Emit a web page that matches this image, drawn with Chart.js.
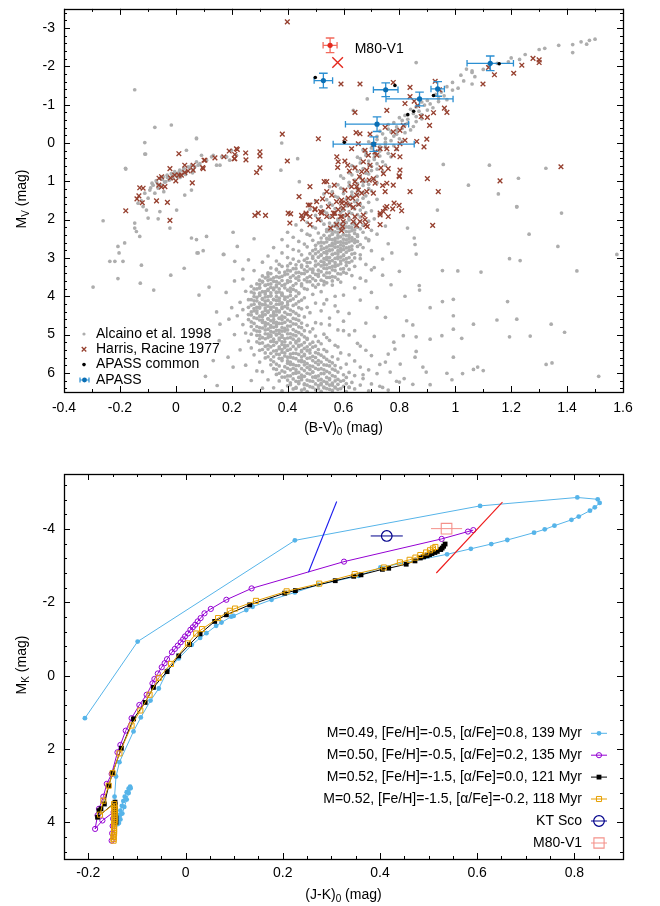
<!DOCTYPE html>
<html>
<head>
<meta charset="utf-8">
<script src="https://cdn.jsdelivr.net/npm/chart.js@4.4.1/dist/chart.umd.min.js"></script>
<style>
  html, body { margin: 0; padding: 0; background: #fff; }
  #wrap { position: relative; width: 660px; height: 906px; }
  #cmd { position: absolute; left: 0; top: 0; }
  #hb { position: absolute; left: 0; top: 445px; }
</style>
</head>
<body>
<div id="wrap">
  <canvas id="cmd" width="660" height="445"></canvas>
  <canvas id="hb" width="660" height="461"></canvas>
</div>
<script>
// ---------------- upper panel: colour-magnitude diagram [(B-V)0, MV] ----------------

const cmdXTicks = [-0.4, -0.2, 0, 0.2, 0.4, 0.6, 0.8, 1, 1.2, 1.4, 1.6];
const cmdYTicks = [-3, -2, -1, 0, 1, 2, 3, 4, 5, 6];

// Alcaino et al. 1998
const alcaino = [
  [0.38,6.47],[0.42,6.42],[0.45,6.45],[0.47,6.49],[0.50,6.44],[0.52,6.48],[0.54,6.41],[0.56,6.46],[0.58,6.43],[0.61,6.49],[0.64,6.42],[0.69,6.47],[0.76,6.45],
  [0.35,6.39],[0.40,6.34],[0.43,6.38],[0.46,6.31],[0.48,6.36],[0.51,6.33],[0.53,6.39],[0.55,6.32],[0.57,6.37],[0.60,6.35],[0.62,6.37],[0.66,6.32],[0.73,6.35],
  [0.37,6.21],[0.41,6.26],[0.44,6.23],[0.46,6.29],[0.49,6.22],[0.52,6.27],[0.54,6.25],[0.56,6.27],[0.59,6.22],[0.63,6.25],[0.70,6.29],[0.80,6.24],
  [0.33,6.18],[0.39,6.11],[0.42,6.16],[0.45,6.13],[0.47,6.19],[0.50,6.12],[0.52,6.17],[0.55,6.15],[0.58,6.17],[0.61,6.12],[0.67,6.15],
  [0.36,6.04],[0.40,6.08],[0.43,6.01],[0.45,6.06],[0.48,6.03],[0.50,6.09],[0.53,6.02],[0.56,6.07],[0.60,6.05],[0.64,6.07],[0.72,6.02],
  [0.31,5.97],[0.38,5.95],[0.41,5.92],[0.43,5.99],[0.46,5.94],[0.49,5.98],[0.51,5.91],[0.54,5.96],[0.57,5.93],[0.62,5.99],[0.69,5.92],
  [0.35,5.89],[0.39,5.84],[0.42,5.88],[0.44,5.81],[0.47,5.86],[0.49,5.83],[0.52,5.89],[0.55,5.82],[0.59,5.87],[0.66,5.85],
  [0.30,5.72],[0.36,5.77],[0.40,5.75],[0.42,5.78],[0.45,5.71],[0.47,5.76],[0.50,5.73],[0.53,5.79],[0.56,5.74],[0.61,5.77],[0.75,5.72],
  [0.34,5.66],[0.37,5.62],[0.40,5.69],[0.43,5.63],[0.45,5.67],[0.48,5.61],[0.51,5.68],[0.54,5.65],[0.58,5.64],[0.64,5.69],
  [0.28,5.53],[0.33,5.58],[0.36,5.51],[0.39,5.56],[0.41,5.59],[0.44,5.52],[0.46,5.55],[0.49,5.57],[0.52,5.54],[0.56,5.58],[0.62,5.53],
  [0.32,5.48],[0.35,5.43],[0.38,5.46],[0.40,5.41],[0.42,5.49],[0.45,5.45],[0.47,5.42],[0.50,5.47],[0.54,5.44],[0.59,5.48],[0.68,5.41],
  [0.27,5.35],[0.31,5.39],[0.34,5.32],[0.37,5.37],[0.39,5.34],[0.41,5.38],[0.44,5.31],[0.46,5.36],[0.49,5.33],[0.53,5.39],[0.58,5.32],
  [0.30,5.23],[0.33,5.28],[0.36,5.21],[0.38,5.26],[0.40,5.29],[0.43,5.22],[0.45,5.27],[0.48,5.25],[0.52,5.24],[0.57,5.28],[0.65,5.23],
  [0.26,5.17],[0.32,5.11],[0.35,5.18],[0.37,5.14],[0.39,5.19],[0.42,5.12],[0.44,5.16],[0.47,5.13],[0.51,5.18],[0.55,5.15],
  [0.29,5.02],[0.31,5.08],[0.34,5.05],[0.36,5.01],[0.38,5.07],[0.40,5.09],[0.43,5.03],[0.46,5.06],[0.50,5.04],[0.54,5.08],[0.62,5.01],
  [0.25,4.96],[0.30,4.92],[0.33,4.99],[0.35,4.94],[0.37,4.97],[0.39,4.91],[0.41,4.98],[0.44,4.95],[0.48,4.93],[0.53,4.99],
  [0.28,4.88],[0.31,4.83],[0.33,4.86],[0.35,4.81],[0.37,4.89],[0.39,4.84],[0.42,4.87],[0.45,4.82],[0.49,4.85],[0.58,4.88],
  [0.24,4.74],[0.29,4.79],[0.32,4.72],[0.34,4.77],[0.36,4.75],[0.38,4.71],[0.40,4.78],[0.43,4.73],[0.47,4.76],[0.52,4.72],
  [0.27,4.67],[0.30,4.62],[0.32,4.69],[0.34,4.64],[0.36,4.68],[0.38,4.61],[0.41,4.66],[0.44,4.63],[0.50,4.69],[0.60,4.65],
  [0.22,4.51],[0.28,4.56],[0.31,4.53],[0.33,4.59],[0.35,4.52],[0.37,4.57],[0.39,4.55],[0.42,4.58],[0.46,4.54],[0.55,4.57],
  [0.26,4.48],[0.29,4.44],[0.31,4.49],[0.33,4.42],[0.35,4.46],[0.37,4.41],[0.40,4.47],[0.43,4.45],[0.48,4.43],
  [0.24,4.35],[0.28,4.38],[0.30,4.31],[0.32,4.37],[0.34,4.34],[0.36,4.39],[0.38,4.32],[0.41,4.36],[0.45,4.33],[0.52,4.38],
  [0.27,4.23],[0.29,4.29],[0.31,4.22],[0.33,4.26],[0.35,4.28],[0.37,4.21],[0.39,4.27],[0.42,4.24],[0.47,4.29],[0.57,4.25],
  [0.23,4.16],[0.28,4.12],[0.30,4.19],[0.32,4.13],[0.34,4.17],[0.36,4.11],[0.38,4.18],[0.40,4.15],[0.44,4.14],[0.50,4.18],
  [0.26,4.09],[0.29,4.03],[0.31,4.06],[0.33,4.01],[0.35,4.08],[0.37,4.05],[0.39,4.02],[0.42,4.07],[0.46,4.04],[0.54,4.09],
  [0.28,3.92],[0.30,3.97],[0.32,3.94],[0.34,3.99],[0.36,3.91],[0.38,3.96],[0.41,3.98],[0.44,3.93],[0.49,3.95],[0.60,3.97],
  [0.25,3.87],[0.29,3.81],[0.31,3.88],[0.33,3.85],[0.35,3.83],[0.37,3.89],[0.40,3.84],[0.43,3.86],[0.47,3.82],[0.52,3.88],
  [0.27,3.74],[0.30,3.78],[0.32,3.71],[0.34,3.77],[0.36,3.75],[0.38,3.72],[0.41,3.79],[0.45,3.73],[0.50,3.76],[0.56,3.71],[0.64,3.78],
  [0.29,3.68],[0.31,3.63],[0.33,3.69],[0.35,3.61],[0.37,3.66],[0.40,3.64],[0.43,3.67],[0.47,3.62],[0.51,3.69],[0.54,3.65],[0.59,3.63],
  [0.24,3.55],[0.30,3.58],[0.32,3.52],[0.34,3.56],[0.37,3.51],[0.40,3.59],[0.43,3.53],[0.46,3.57],[0.49,3.54],[0.52,3.58],[0.55,3.51],[0.58,3.56],[0.66,3.53],
  [0.31,3.47],[0.33,3.42],[0.36,3.49],[0.39,3.44],[0.42,3.46],[0.45,3.41],[0.48,3.48],[0.50,3.43],[0.53,3.45],[0.56,3.49],[0.59,3.42],[0.63,3.46],
  [0.28,3.33],[0.33,3.39],[0.36,3.31],[0.39,3.37],[0.41,3.34],[0.44,3.38],[0.47,3.35],[0.49,3.32],[0.52,3.36],[0.54,3.39],[0.57,3.33],[0.60,3.37],[0.70,3.31],
  [0.34,3.26],[0.38,3.22],[0.42,3.28],[0.45,3.24],[0.48,3.29],[0.50,3.21],[0.53,3.27],[0.55,3.25],[0.57,3.23],[0.60,3.28],[0.64,3.22],
  [0.31,3.11],[0.37,3.17],[0.41,3.14],[0.45,3.19],[0.48,3.12],[0.51,3.16],[0.53,3.18],[0.55,3.13],[0.57,3.19],[0.59,3.15],[0.62,3.12],[0.68,3.17],
  [0.36,3.08],[0.42,3.03],[0.46,3.06],[0.49,3.01],[0.52,3.09],[0.54,3.04],[0.56,3.07],[0.58,3.02],[0.60,3.05],[0.63,3.08],[0.74,3.03],
  [0.33,2.95],[0.40,2.99],[0.45,2.92],[0.49,2.96],[0.52,2.93],[0.54,2.98],[0.56,2.91],[0.58,2.97],[0.60,2.94],[0.62,2.99],[0.66,2.92],
  [0.38,2.87],[0.44,2.82],[0.48,2.89],[0.51,2.84],[0.53,2.86],[0.55,2.81],[0.57,2.88],[0.59,2.83],[0.61,2.85],[0.64,2.88],[0.70,2.81],
  [0.35,2.73],[0.42,2.78],[0.47,2.71],[0.50,2.77],[0.53,2.75],[0.55,2.79],[0.57,2.72],[0.59,2.76],[0.61,2.74],[0.63,2.78],[0.67,2.73],
  [0.40,2.69],[0.46,2.64],[0.50,2.67],[0.53,2.61],[0.55,2.68],[0.57,2.63],[0.59,2.66],[0.61,2.62],[0.63,2.69],[0.66,2.65],[0.76,2.63],
  [0.38,2.52],[0.44,2.57],[0.49,2.54],[0.52,2.59],[0.55,2.51],[0.57,2.56],[0.59,2.58],[0.61,2.53],[0.63,2.55],[0.65,2.57],[0.69,2.52],
  [0.42,2.46],[0.48,2.41],[0.52,2.48],[0.55,2.43],[0.57,2.49],[0.59,2.45],[0.61,2.42],[0.63,2.47],[0.65,2.44],[0.68,2.48],
  [0.40,2.33],[0.47,2.38],[0.51,2.35],[0.54,2.31],[0.56,2.37],[0.58,2.34],[0.60,2.39],[0.62,2.32],[0.64,2.36],[0.67,2.33],[0.72,2.38],
  [0.45,2.28],[0.50,2.22],[0.54,2.26],[0.56,2.29],[0.58,2.23],[0.60,2.25],[0.62,2.21],[0.64,2.27],[0.66,2.24],[0.70,2.28],
  [0.43,2.14],[0.49,2.19],[0.53,2.12],[0.56,2.17],[0.58,2.11],[0.60,2.16],[0.62,2.18],[0.64,2.13],[0.67,2.15],[0.75,2.17],
  [0.47,2.07],[0.52,2.03],[0.55,2.09],[0.58,2.02],[0.60,2.06],[0.62,2.01],[0.64,2.08],[0.66,2.05],[0.69,2.04],
  [0.45,1.92],[0.51,1.98],[0.55,1.94],[0.58,1.99],[0.60,1.91],[0.62,1.97],[0.64,1.95],[0.66,1.93],[0.71,1.98],
  [0.50,1.89],[0.54,1.83],[0.57,1.86],[0.59,1.81],[0.61,1.88],[0.63,1.84],[0.65,1.87],[0.68,1.82],
  [0.48,1.73],[0.53,1.78],[0.57,1.71],[0.60,1.76],[0.62,1.79],[0.64,1.72],[0.66,1.75],[0.70,1.77],
  [0.52,1.66],[0.56,1.62],[0.59,1.69],[0.61,1.64],[0.63,1.67],[0.65,1.61],[0.67,1.68],
  [0.50,1.51],[0.55,1.57],[0.59,1.54],[0.62,1.58],[0.64,1.53],[0.66,1.59],[0.69,1.55],
  [0.54,1.48],[0.58,1.42],[0.61,1.46],[0.63,1.41],[0.65,1.49],[0.67,1.44],[0.72,1.47],
  [0.53,1.33],[0.57,1.39],[0.60,1.32],[0.63,1.36],[0.65,1.34],[0.68,1.38],
  [0.56,1.27],[0.60,1.21],[0.63,1.28],[0.65,1.23],[0.67,1.29],[0.70,1.25],
  [0.55,1.14],[0.59,1.18],[0.62,1.12],[0.65,1.17],[0.67,1.11],[0.69,1.19],
  [0.58,1.09],[0.62,1.03],[0.65,1.06],[0.67,1.02],[0.69,1.08],[0.72,1.04],
  [0.60,0.92],[0.64,0.97],[0.66,0.91],[0.68,0.99],[0.71,0.95],
  [0.59,0.86],[0.63,0.83],[0.66,0.88],[0.69,0.81],[0.72,0.87],
  [0.62,0.78],[0.65,0.74],[0.68,0.79],[0.70,0.72],[0.74,0.75],
  [0.64,0.63],[0.67,0.67],[0.70,0.61],[0.72,0.68],
  [0.63,0.59],[0.66,0.52],[0.69,0.56],[0.72,0.54],[0.75,0.58],
  [0.66,0.41],[0.69,0.47],[0.71,0.43],[0.74,0.49],
  [0.65,0.37],[0.68,0.32],[0.71,0.38],[0.73,0.34],[0.77,0.36],
  [0.68,0.24],[0.71,0.29],[0.73,0.21],[0.76,0.27],
  [0.67,0.18],[0.70,0.13],[0.73,0.16],[0.75,0.11],[0.79,0.17],
  [0.70,0.02],[0.73,0.09],[0.75,0.04],[0.78,0.07],
  [0.69,-0.03],[0.72,-0.09],[0.75,-0.02],[0.77,-0.06],[0.81,-0.04],
  [0.72,-0.17],[0.75,-0.12],[0.78,-0.18],[0.80,-0.11],
  [0.74,-0.24],[0.77,-0.29],[0.79,-0.23],[0.82,-0.27],
  [0.73,-0.31],[0.76,-0.36],[0.79,-0.33],[0.81,-0.38],[0.84,-0.34],
  [0.76,-0.48],[0.79,-0.42],[0.82,-0.47],[0.85,-0.43],
  [0.78,-0.53],[0.81,-0.59],[0.83,-0.52],[0.86,-0.56],
  [0.80,-0.66],[0.83,-0.62],[0.86,-0.69],[0.88,-0.63],
  [0.82,-0.72],[0.85,-0.77],[0.88,-0.74],
  [0.84,-0.88],[0.87,-0.83],[0.90,-0.86],
  [0.86,-0.94],[0.89,-0.99],[0.92,-0.92],
  [0.88,-1.07],[0.91,-1.02],[0.94,-1.08],
  [0.90,-1.11],[0.94,-1.16],[0.97,-1.13],
  [0.93,-1.27],[0.96,-1.23],[0.95,-1.33],[0.99,-1.38],[0.97,-1.47],[1.01,-1.43],
  [0.99,-1.58],[1.03,-1.62],[1.02,-1.77],[1.07,-1.73],[1.06,-1.88],[1.10,-1.92],
  [1.12,-2.02],[1.15,-2.08],[1.19,-2.12],[1.20,-2.22],[1.23,-2.18],[1.25,-2.31],[1.30,-2.44],[1.32,-2.47],
  [1.37,-2.55],[1.42,-2.57],[1.45,-2.64],[1.47,-2.58],[1.48,-2.68],[1.50,-2.71],[1.42,-2.36],
  [1.04,-1.93],[1.06,-1.84],[1.06,-1.54],[0.86,-2.10],[0.685,-1.15],[0.635,-0.85],
  // densest part of the main sequence, turn-off and lower giant branch
  [0.43,6.40],[0.46,6.42],[0.49,6.38],[0.51,6.41],[0.53,6.37],[0.55,6.43],[0.57,6.39],[0.59,6.41],[0.62,6.38],
  [0.41,6.31],[0.44,6.28],[0.47,6.32],[0.50,6.29],[0.52,6.31],[0.54,6.28],[0.56,6.32],[0.58,6.30],[0.61,6.28],
  [0.40,6.19],[0.43,6.22],[0.45,6.18],[0.48,6.21],[0.51,6.19],[0.53,6.22],[0.55,6.18],[0.57,6.21],[0.60,6.20],
  [0.38,6.11],[0.41,6.08],[0.44,6.12],[0.46,6.09],[0.49,6.11],[0.51,6.08],[0.54,6.12],[0.57,6.10],
  [0.37,6.01],[0.39,5.98],[0.42,6.02],[0.44,5.99],[0.47,6.01],[0.49,5.98],[0.52,6.02],[0.55,6.00],[0.58,5.98],
  [0.36,5.91],[0.40,5.88],[0.43,5.92],[0.45,5.89],[0.48,5.91],[0.50,5.88],[0.53,5.92],[0.56,5.90],
  [0.34,5.79],[0.37,5.82],[0.41,5.78],[0.43,5.81],[0.46,5.79],[0.48,5.82],[0.51,5.78],[0.54,5.80],[0.57,5.81],
  [0.35,5.71],[0.38,5.68],[0.41,5.72],[0.44,5.69],[0.46,5.71],[0.49,5.68],[0.52,5.72],[0.55,5.70],
  [0.32,5.61],[0.35,5.58],[0.38,5.62],[0.40,5.59],[0.42,5.61],[0.45,5.58],[0.47,5.62],[0.50,5.60],[0.53,5.59],
  [0.34,5.49],[0.37,5.52],[0.39,5.48],[0.41,5.51],[0.43,5.49],[0.46,5.52],[0.48,5.48],[0.51,5.50],
  [0.30,5.41],[0.33,5.38],[0.36,5.42],[0.38,5.39],[0.40,5.41],[0.43,5.38],[0.45,5.42],[0.48,5.40],[0.51,5.39],
  [0.32,5.31],[0.35,5.28],[0.37,5.32],[0.39,5.29],[0.42,5.31],[0.44,5.28],[0.47,5.32],[0.50,5.30],
  [0.29,5.19],[0.31,5.22],[0.34,5.18],[0.36,5.21],[0.38,5.19],[0.41,5.22],[0.43,5.18],[0.46,5.21],[0.49,5.20],
  [0.30,5.11],[0.33,5.08],[0.35,5.12],[0.37,5.09],[0.39,5.11],[0.41,5.08],[0.44,5.12],[0.47,5.10],
  [0.27,4.99],[0.30,5.02],[0.32,4.98],[0.34,5.01],[0.36,4.99],[0.38,5.02],[0.40,4.98],[0.42,5.01],[0.45,5.00],
  [0.29,4.91],[0.32,4.88],[0.34,4.92],[0.36,4.89],[0.38,4.91],[0.40,4.88],[0.43,4.92],[0.46,4.90],
  [0.27,4.79],[0.30,4.82],[0.32,4.78],[0.34,4.81],[0.36,4.79],[0.38,4.82],[0.41,4.78],[0.44,4.80],
  [0.28,4.71],[0.31,4.68],[0.33,4.72],[0.35,4.69],[0.37,4.71],[0.39,4.68],[0.42,4.72],[0.45,4.70],
  [0.26,4.61],[0.29,4.58],[0.31,4.62],[0.33,4.59],[0.35,4.61],[0.37,4.58],[0.40,4.62],[0.43,4.60],
  [0.27,4.49],[0.30,4.52],[0.32,4.48],[0.34,4.51],[0.36,4.49],[0.38,4.52],[0.41,4.48],[0.44,4.50],
  [0.27,4.41],[0.29,4.38],[0.31,4.42],[0.33,4.39],[0.35,4.41],[0.37,4.38],[0.39,4.42],[0.42,4.40],
  [0.26,4.29],[0.28,4.32],[0.30,4.28],[0.32,4.31],[0.34,4.29],[0.36,4.32],[0.38,4.28],[0.40,4.31],[0.44,4.30],
  [0.28,4.21],[0.30,4.18],[0.32,4.22],[0.34,4.19],[0.36,4.21],[0.38,4.18],[0.40,4.22],[0.43,4.20],
  [0.27,4.09],[0.29,4.12],[0.31,4.08],[0.33,4.11],[0.35,4.09],[0.37,4.12],[0.39,4.08],[0.41,4.11],[0.45,4.10],
  [0.28,4.01],[0.30,3.98],[0.32,4.02],[0.34,3.99],[0.36,4.01],[0.38,3.98],[0.40,4.02],[0.43,4.00],
  [0.27,3.89],[0.30,3.92],[0.32,3.88],[0.34,3.91],[0.36,3.89],[0.38,3.92],[0.41,3.88],[0.44,3.91],
  [0.28,3.81],[0.30,3.78],[0.33,3.82],[0.35,3.79],[0.37,3.81],[0.39,3.78],[0.42,3.82],[0.46,3.80],
  [0.30,3.69],[0.32,3.72],[0.34,3.68],[0.36,3.71],[0.39,3.69],[0.42,3.72],[0.45,3.68],[0.49,3.71],[0.53,3.70],
  [0.31,3.61],[0.33,3.58],[0.36,3.62],[0.38,3.59],[0.41,3.61],[0.44,3.58],[0.48,3.62],[0.50,3.59],[0.53,3.61],[0.56,3.60],
  [0.33,3.49],[0.35,3.52],[0.38,3.48],[0.41,3.51],[0.44,3.49],[0.47,3.52],[0.51,3.48],[0.54,3.51],[0.57,3.50],
  [0.34,3.41],[0.37,3.38],[0.40,3.42],[0.43,3.39],[0.46,3.41],[0.49,3.38],[0.51,3.42],[0.55,3.39],[0.58,3.41],[0.61,3.40],
  [0.36,3.29],[0.40,3.32],[0.43,3.28],[0.46,3.31],[0.49,3.29],[0.51,3.32],[0.54,3.28],[0.56,3.31],[0.59,3.29],[0.62,3.30],
  [0.40,3.21],[0.43,3.18],[0.47,3.22],[0.50,3.19],[0.52,3.21],[0.54,3.18],[0.56,3.22],[0.58,3.19],[0.61,3.20],
  [0.44,3.09],[0.47,3.12],[0.50,3.08],[0.53,3.11],[0.55,3.09],[0.57,3.12],[0.59,3.08],[0.61,3.11],
  [0.47,3.01],[0.51,2.98],[0.53,3.02],[0.55,2.99],[0.57,3.01],[0.59,2.98],[0.61,3.02],[0.64,3.00],
  [0.50,2.89],[0.52,2.92],[0.54,2.88],[0.56,2.91],[0.58,2.89],[0.60,2.92],[0.63,2.90],
  [0.49,2.81],[0.52,2.78],[0.54,2.82],[0.56,2.79],[0.58,2.81],[0.60,2.78],[0.62,2.80],
  [0.52,2.69],[0.54,2.72],[0.56,2.68],[0.58,2.71],[0.60,2.69],[0.62,2.72],[0.65,2.70],
  [0.51,2.61],[0.54,2.58],[0.56,2.62],[0.58,2.59],[0.60,2.61],[0.62,2.58],[0.64,2.60],
  [0.54,2.49],[0.56,2.52],[0.58,2.48],[0.60,2.51],[0.62,2.49],[0.64,2.52],
  [0.53,2.41],[0.56,2.38],[0.58,2.42],[0.60,2.39],[0.62,2.41],[0.65,2.40],
  [0.55,2.29],[0.57,2.32],[0.59,2.28],[0.61,2.31],[0.63,2.29],
  [0.55,2.21],[0.57,2.18],[0.59,2.22],[0.61,2.19],[0.63,2.21],[0.65,2.20],
  [0.57,2.09],[0.59,2.12],[0.61,2.08],[0.63,2.11],
  // horizontal branch and blue tail
  [-0.26,2.03],[-0.179,0.68],[-0.123,1.51],[-0.117,1.66],[-0.111,1.31],[-0.099,1.44],[-0.093,1.23],[-0.081,1.10],
  [-0.075,1.31],[-0.069,1.01],[-0.063,1.18],[-0.057,0.92],[-0.051,1.10],[-0.045,0.88],[-0.043,1.27],[-0.036,1.01],
  [-0.031,0.84],[-0.024,0.97],[-0.016,0.80],[-0.010,0.92],[-0.004,0.75],[0.005,0.88],[0.014,0.71],[0.020,0.84],
  [0.029,0.66],[0.038,0.75],[0.044,0.62],[0.056,0.58],[0.062,0.71],[0.074,0.49],[0.086,0.54],[0.092,0.32],
  [0.110,0.45],[0.128,0.36],[0.134,0.32],[0.146,0.58],[0.158,0.58],[0.164,0.36],[0.182,0.36],[0.193,0.45],
  [0.199,0.19],[0.217,0.32],[0.038,0.19],[0.074,-0.11],[-0.111,-0.01],[-0.111,0.29],[-0.075,-0.41],[-0.016,-0.47],
  [0.032,1.36],[0.056,1.23],[0.003,1.75],[-0.021,2.22],[-0.063,1.98],[-0.057,1.79],[-0.099,1.96],[-0.105,1.75],
  [-0.135,1.57],[-0.147,2.09],[-0.147,2.22],[-0.141,2.31],[-0.129,2.44],[-0.183,2.61],[-0.207,2.70],[-0.236,3.09],
  [-0.218,3.09],[-0.189,3.09],[-0.203,2.87],[-0.123,3.19],[0.074,2.52],[0.110,2.44],[0.056,2.48],[0.098,2.81],
  [0.076,2.87],[0.170,2.91],[0.205,2.33],[0.211,3.09],[-0.147,-1.39],[-0.108,0.29],[0.074,-0.13],[-0.18,0.66],
  [-0.085,1.05],[-0.070,0.98],[-0.048,0.95],[-0.030,0.90],[-0.012,0.86],[0.000,0.80],[0.010,0.78],[0.025,0.73],
  [0.050,0.66],[0.068,0.62],[0.080,0.58],[-0.090,1.17],[-0.065,1.07],[-0.040,1.02],[-0.020,0.95],[0.015,0.90],
  [0.035,0.82],[0.060,0.78],
  [-0.207,3.54],[-0.296,3.76],[-0.127,3.66],[-0.079,3.84],[-0.018,3.45],[0.030,3.27],[0.080,2.87],[0.083,3.97],
  [0.119,3.76],[0.146,4.41],[0.158,4.73],[0.172,2.91],[0.155,5.16],[0.187,5.59],[0.134,5.68],[0.205,5.85],
  [0.106,6.09],[0.148,6.33],[0.379,0.0],[0.436,0.41],[0.442,1.01],[0.376,0.71],
  // sparse wings around the turn-off
  [0.66,3.02],[0.71,3.25],[0.68,3.6],[0.74,3.45],[0.70,3.9],[0.77,3.7],[0.66,4.1],[0.72,4.3],[0.62,4.45],[0.68,4.7],
  [0.75,4.55],[0.64,4.9],[0.71,5.05],[0.66,5.3],[0.78,5.2],[0.70,5.55],[0.73,5.78],[0.67,6.05],[0.79,6.22],[0.74,6.38],
  [0.82,4.0],[0.80,3.35],[0.86,2.9],[0.69,2.55],[0.58,4.4],[0.60,4.9],[0.57,4.0],[0.53,4.2],[0.55,4.75],
  [0.20,4.3],[0.18,3.9],[0.21,5.0],[0.23,5.4],[0.19,4.6],[0.24,3.3],[0.21,3.6],[0.26,3.05],[0.22,2.7],[0.28,2.5],
  [0.25,5.8],[0.27,6.2],[0.31,6.4],[0.29,5.95],
  // field stars
  [0.936,1.75],[1.22,1.66],[1.38,1.83],[1.264,2.38],[1.367,2.70],[1.578,2.91],[1.194,3.02],[1.232,3.07],[1.435,3.34],
  [1.092,3.37],[1.009,3.34],[0.954,3.33],[0.872,3.84],[1.187,4.14],[1.22,4.60],[1.149,4.62],[1.065,4.73],[0.993,4.08],
  [0.993,4.51],[0.954,4.14],[0.91,4.30],[1.343,4.73],[1.391,4.94],[1.268,5.04],[1.194,5.06],[0.993,4.86],[1.023,5.10],
  [0.952,5.03],[0.91,5.12],[0.86,5.06],[0.814,5.03],[0.848,4.75],[0.993,5.59],[1.065,5.91],[1.08,5.85],[1.10,5.94],
  [1.026,6.02],[0.97,6.01],[0.988,6.18],[1.325,5.78],[1.346,5.74],[1.513,6.09],[0.896,5.98],[0.884,5.85],[0.856,5.59],
  [0.86,5.44],[0.817,6.15],[0.848,6.30],[0.91,6.31],[0.767,5.98],[0.803,5.77],[0.760,5.51],[0.784,5.38],[0.826,4.64],
  [0.871,3.72],[0.853,2.48],[0.856,2.65],[0.829,2.22],[0.773,2.87],
  [0.957,0.56],[1.122,0.58],[1.226,0.92],[1.324,0.66],[1.047,1.10],[1.154,1.33],[1.22,1.67]
];

// Harris & Racine 1977
const harris = [
  [0.399,-3.16],[0.381,-0.23],[0.510,-0.11],[0.011,0.28],[0.191,0.21],[0.220,0.17],[0.250,0.26],[0.301,0.23],
  [0.301,0.34],[0.251,0.44],[0.209,0.41],[0.172,0.36],[0.140,0.39],[0.104,0.45],[0.096,0.64],[0.062,0.58],
  [0.062,0.71],[0.032,0.58],[0.032,0.77],[0.020,0.84],[-0.004,0.84],[-0.021,0.67],[-0.019,0.91],[-0.051,0.88],
  [-0.061,1.10],[-0.039,1.14],[-0.129,1.17],[-0.117,1.18],[-0.139,1.46],[-0.120,1.56],[-0.069,1.51],[-0.030,1.55],
  [0.059,1.04],[0.289,0.77],[0.301,0.65],[0.441,1.40],[0.480,1.14],[0.540,1.01],[0.399,0.47],
  [-0.132,1.38],[-0.179,1.77],[-0.021,2.02],[-0.051,1.15],[0.000,0.99],[-0.060,0.92],[0.011,0.84],[0.044,0.73],
  [0.098,0.67],[0.101,0.45],[0.211,0.30],[0.211,0.41],[0.217,0.15],
  [0.283,1.89],[0.295,1.83],[0.321,1.89],[0.402,1.83],[0.408,2.09],[0.450,1.89],[0.466,1.83],[0.480,2.13],
  [0.510,2.00],[0.522,1.83],[0.498,1.72],[0.474,1.62],[0.411,1.85],
  [0.641,-0.80],[0.755,-0.85],[0.820,-1.03],[0.878,-0.69],[0.908,-0.46],[0.922,-0.79],[0.814,-0.46],[0.802,-0.33],
  [0.778,-0.29],[0.862,-0.04],[0.888,0.10],[0.898,-0.10],[0.820,-0.07],[0.790,0.15],[0.778,0.32],[0.755,0.15],
  [0.719,0.32],[0.709,0.04],[0.689,0.32],[0.677,0.19],[0.653,0.02],[0.645,-0.27],[0.659,-0.24],[0.629,0.15],
  [0.605,0.47],[0.615,0.58],[0.581,0.49],[0.579,0.64],[0.621,0.73],[0.665,0.75],[0.657,0.88],[0.683,0.71],
  [0.695,0.58],[0.707,0.93],[0.734,0.65],[0.743,0.80],[0.760,0.67],[0.802,0.71],[0.799,0.86],[0.900,0.93],
  [0.740,1.11],[0.755,1.05],[0.713,1.05],[0.692,0.97],[0.668,0.97],[0.647,1.14],[0.629,1.14],[0.653,1.23],
  [0.665,1.31],[0.683,1.27],[0.647,1.36],[0.633,1.44],[0.617,1.44],[0.609,1.57],[0.623,1.62],[0.635,1.68],
  [0.599,1.70],[0.581,1.74],[0.569,1.83],[0.561,1.92],[0.589,1.92],[0.614,1.88],[0.641,1.92],[0.659,2.05],
  [0.680,2.13],[0.599,2.05],[0.575,2.13],[0.554,2.22],[0.540,1.92],[0.518,1.79],[0.498,1.74],[0.480,1.92],
  [0.466,1.86],[0.454,1.98],[0.480,1.62],[0.540,1.27],[0.558,1.36],[0.567,1.10],[0.605,1.23],[0.593,1.49],
  [0.575,1.53],[0.525,1.46],[0.504,1.53],[0.641,0.65],[0.671,0.49],[0.755,1.66],[0.776,1.72],[0.799,1.63],
  [0.808,1.77],[0.743,1.79],[0.731,1.88],[0.749,1.27],[0.778,1.10],[0.800,0.88],[0.838,1.27],[0.919,2.15],
  [0.647,2.15],[0.685,2.18],[0.677,2.00],[0.593,2.29],
  [0.591,-1.54],[0.659,-1.54],[0.838,-1.21],[0.853,-1.09],[0.865,-0.98],[0.900,-0.67],[0.928,-1.61],[0.943,-1.39],
  [0.961,-0.91],[0.970,-0.80],[1.099,-1.54],[1.140,-1.78],[1.119,-1.97],[1.209,-1.82],[1.238,-2.03],[1.278,-2.21],
  [1.300,-2.17],[1.300,-2.10],[0.778,-1.58],[0.838,-1.45],[0.802,0.02],[0.802,0.36],[0.939,1.27],[1.160,0.99],
  [1.378,0.62],[0.707,1.31],[0.641,1.01],[0.576,0.36],[0.531,1.01],[0.749,-0.41],[0.695,-0.23],[0.731,0.15],
  [0.713,0.23],[0.605,-0.11],
  [0.731,2.13],[0.760,1.92],[0.749,1.70],[0.781,1.57],[0.731,1.83],[0.671,1.88],[0.654,1.60],[0.594,1.57],
  [0.546,1.66],[0.564,1.83],[0.594,1.92],[0.597,2.18],[0.635,2.05],[0.522,1.81]
];

// APASS stars in common with the catalogues
const apassCommon = [[0.784,-1.50],[1.157,-2.07],[0.922,-1.24],[0.830,-0.74],[0.851,-0.83],[0.603,-0.02],[0.499,-1.71]];

// APASS photometry with uncertainties
const apassBV    = [1.125, 0.751, 0.937, 0.872, 0.720, 0.708, 0.528];
const apassMV    = [-2.08, -1.39, -1.41, -1.15, -0.49, 0.03, -1.63];
const apassErrBV = [0.083, 0.044, 0.024, 0.120, 0.113, 0.145, 0.033];
const apassErrMV = [0.19, 0.18, 0.19, 0.18, 0.19, 0.19, 0.19];

// M80-V1 (measured and shifted position)
const m80BV = [0.552], m80MV = [-2.55], m80ErrBV = [0.025], m80ErrMV = [0.19];
const m80Shifted = [[0.579, -2.10]];

// ---------------- lower panel: HB tracks [(J-K)0, MK] ----------------

const hbXTicks = [-0.2, 0, 0.2, 0.4, 0.6, 0.8];
const hbYTicks = [-4, -2, 0, 2, 4];

// M=0.49, [Fe/H]=-0.5, [a/Fe]=0.8, 139 Myr
const track049 = [
  [-0.140,4.05],[-0.138,3.92],[-0.136,3.80],[-0.134,3.68],[-0.131,3.55],[-0.128,3.42],[-0.125,3.30],[-0.121,3.18],
  [-0.117,3.08],[-0.114,3.03],[-0.113,3.07],[-0.117,3.20],[-0.121,3.38],[-0.126,3.58],[-0.130,3.76],[-0.134,3.92],
  [-0.137,4.02],[-0.146,3.30],[-0.143,2.75],[-0.136,2.36],[-0.107,1.52],[-0.092,1.14],[-0.072,0.68],[-0.055,0.35],
  [-0.037,-0.14],[-0.014,-0.47],[0.013,-0.84],[0.030,-1.03],[0.043,-1.16],[0.063,-1.36],[0.074,-1.45],[0.094,-1.61],
  [0.099,-1.63],[0.125,-1.79],[0.138,-1.88],[0.177,-2.07],[0.225,-2.27],[0.273,-2.48],[0.356,-2.72],[0.401,-2.95],
  [0.538,-3.31],[0.587,-3.46],[0.629,-3.59],[0.662,-3.70],[0.717,-3.90],[0.739,-3.99],[0.759,-4.09],[0.794,-4.25],
  [0.809,-4.34],[0.832,-4.50],[0.842,-4.59],[0.852,-4.71],[0.848,-4.81],[0.806,-4.86],[0.606,-4.63],[0.225,-3.69],
  [-0.0985,-0.93],[-0.207,1.16]
];

// M=0.50, [Fe/H]=-0.5, [a/Fe]=0.2, 135 Myr
const track050 = [
  [-0.152,4.50],[-0.151,4.30],[-0.150,4.10],[-0.149,3.90],[-0.148,3.72],[-0.171,3.95],[-0.186,4.18],[-0.181,3.81],
  [-0.178,3.63],[-0.169,3.30],[-0.162,2.95],[-0.152,2.68],[-0.140,2.09],[-0.134,1.89],[-0.123,1.50],[-0.111,1.16],
  [-0.095,0.80],[-0.080,0.52],[-0.068,0.21],[-0.064,0.09],[-0.057,-0.06],[-0.049,-0.23],[-0.043,-0.34],[-0.038,-0.45],
  [-0.028,-0.64],[-0.022,-0.73],[-0.016,-0.82],[-0.010,-0.91],[-0.005,-0.99],[-0.001,-1.07],[0.005,-1.15],[0.010,-1.25],
  [0.015,-1.32],[0.020,-1.39],[0.025,-1.48],[0.031,-1.57],[0.039,-1.70],[0.052,-1.82],[0.084,-2.07],[0.136,-2.38],
  [0.326,-3.11],[0.527,-3.73],[0.581,-3.93],[0.592,-3.97]
];

// M=0.52, [Fe/H]=-1.5, [a/Fe]=0.0, 121 Myr
const track052a = [
  [-0.143,4.00],[-0.143,3.88],[-0.144,3.76],[-0.144,3.64],[-0.145,3.52],[-0.145,3.45],[-0.181,3.86],[-0.178,3.68],
  [-0.174,3.63],[-0.167,3.50],[-0.158,3.00],[-0.150,2.65],[-0.132,1.98],[-0.107,1.18],[-0.083,0.73],[-0.066,0.32],
  [-0.038,-0.11],[-0.014,-0.54],[0.008,-0.85],[0.030,-1.14],[0.060,-1.48],[0.084,-1.66],[0.132,-1.93],[0.204,-2.25],
  [0.226,-2.32],[0.308,-2.59],[0.346,-2.71],[0.361,-2.75],[0.405,-2.90],[0.418,-2.93],[0.454,-3.04],[0.472,-3.13],
  [0.483,-3.21],[0.490,-3.24],[0.497,-3.27],[0.502,-3.30],[0.507,-3.33],[0.513,-3.36],[0.518,-3.39],[0.525,-3.44],
  [0.528,-3.48],[0.531,-3.53],[0.534,-3.59]
];

// M=0.52, [Fe/H]=-1.5, [a/Fe]=-0.2, 118 Myr
const track052b = [
  [-0.148,4.50],[-0.148,4.45],[-0.148,4.40],[-0.148,4.35],[-0.147,4.30],[-0.147,4.25],[-0.147,4.20],[-0.147,4.15],
  [-0.147,4.10],[-0.147,4.05],[-0.146,4.00],[-0.146,3.95],[-0.146,3.90],[-0.146,3.85],[-0.146,3.80],[-0.146,3.75],
  [-0.146,3.70],[-0.146,3.65],[-0.146,3.60],[-0.147,3.55],[-0.147,3.50],[-0.176,3.79],[-0.169,3.41],[-0.158,3.00],
  [-0.150,2.66],[-0.136,2.12],[-0.111,1.36],[-0.093,0.95],[-0.074,0.52],[-0.055,0.06],[-0.030,-0.32],[0.005,-0.88],
  [0.022,-1.15],[0.034,-1.27],[0.067,-1.57],[0.091,-1.77],[0.102,-1.83],[0.145,-2.04],[0.208,-2.30],[0.275,-2.51],
  [0.348,-2.77],[0.408,-2.95],[0.441,-3.09],[0.461,-3.16],[0.473,-3.22],[0.483,-3.29],[0.495,-3.36],[0.503,-3.42],
  [0.509,-3.47],[0.514,-3.51]
];

// observed stars and their reddening vectors
const ktSco = [[0.414, -3.81]], ktScoErrJK = [0.033];
const m80v1 = [[0.537, -4.01]], m80v1ErrJK = [0.032];
const ktScoVector = [[0.253, -2.82], [0.311, -4.75]];
const m80v1Vector = [[0.516, -2.80], [0.652, -4.73]];

// ---------------- drawing ----------------

const FONT = '"Liberation Sans", Arial, Helvetica, sans-serif';
Chart.defaults.font.family = FONT;
Chart.defaults.font.size = 14;
Chart.defaults.color = '#000';

const xy = pts => pts.map(([x, y]) => ({x, y}));
const fmt = v => String(+(+v).toFixed(2));

function axis(min, max, ticks, reverse, pad, fit) {
  return {
    type: 'linear', min, max, reverse,
    grid: {display: false, drawTicks: false},
    border: {display: false},
    ticks: {padding: pad, callback: fmt, autoSkip: false, maxRotation: 0, color: '#000'},
    afterBuildTicks: s => { s.ticks = ticks.map(v => ({value: v})); },
    afterFit: s => {
      fit(s);
      // the frame is placed by the layout padding alone
      s.paddingTop = s.paddingBottom = s.paddingLeft = s.paddingRight = 0;
    }
  };
}

// gnuplot-like frame with inward major/minor tick marks on all four sides
const frameTicks = {
  id: 'frameTicks',
  afterDatasetsDraw(chart, args, opts) {
    const {ctx, chartArea: a, scales: {x, y}} = chart;
    ctx.save();
    ctx.strokeStyle = '#000';
    ctx.lineWidth = 1;
    const mark = (scale, values, len) => {
      values.forEach(v => {
        const p = Math.round(scale.getPixelForValue(v)) + 0.5;
        ctx.beginPath();
        if (scale.axis === 'x') {
          ctx.moveTo(p, a.bottom); ctx.lineTo(p, a.bottom - len);
          ctx.moveTo(p, a.top); ctx.lineTo(p, a.top + len);
        } else {
          ctx.moveTo(a.left, p); ctx.lineTo(a.left + len, p);
          ctx.moveTo(a.right, p); ctx.lineTo(a.right - len, p);
        }
        ctx.stroke();
      });
    };
    const minors = (scale, step) => {
      const out = [];
      for (let k = Math.ceil(scale.min / step - 1e-6); k <= Math.floor(scale.max / step + 1e-6); k++) out.push(k * step);
      return out;
    };
    mark(x, minors(x, opts.xMinor), 3);
    mark(y, minors(y, opts.yMinor), 3);
    mark(x, opts.xMajor, 6);
    mark(y, opts.yMajor, 6);
    ctx.lineWidth = 1.3;
    ctx.strokeRect(Math.round(a.left) + 0.5, Math.round(a.top) + 0.5, Math.round(a.right - a.left), Math.round(a.bottom - a.top));
    ctx.restore();
  }
};

// error bars, drawn just underneath each dataset's own markers
const errorBars = {
  id: 'errorBars',
  beforeDatasetDraw(chart, args) {
    const ds = chart.data.datasets[args.index];
    if (!ds.errX && !ds.errY) return;
    const {ctx, scales: {x, y}} = chart;
    ctx.save();
    ctx.strokeStyle = ds.errColor;
    ctx.lineWidth = ds.errWidth || 1.2;
    ds.data.forEach((p, i) => {
      const px = x.getPixelForValue(p.x), py = y.getPixelForValue(p.y);
      ctx.beginPath();
      if (ds.errX) {
        const x0 = x.getPixelForValue(p.x - ds.errX[i]), x1 = x.getPixelForValue(p.x + ds.errX[i]);
        ctx.moveTo(x0, py); ctx.lineTo(x1, py);
        if (ds.capX) {
          ctx.moveTo(x0, py - ds.capX); ctx.lineTo(x0, py + ds.capX);
          ctx.moveTo(x1, py - ds.capX); ctx.lineTo(x1, py + ds.capX);
        }
      }
      if (ds.errY) {
        const y0 = y.getPixelForValue(p.y - ds.errY[i]), y1 = y.getPixelForValue(p.y + ds.errY[i]);
        ctx.moveTo(px, y0); ctx.lineTo(px, y1);
        if (ds.capY) {
          ctx.moveTo(px - ds.capY, y0); ctx.lineTo(px + ds.capY, y0);
          ctx.moveTo(px - ds.capY, y1); ctx.lineTo(px + ds.capY, y1);
        }
      }
      ctx.stroke();
    });
    ctx.restore();
  }
};

// text with subscripts: parts = [[text, isSub], ...]
function subText(ctx, parts, x, y, align) {
  const big = '14px ' + FONT, small = '10px ' + FONT;
  let w = 0;
  parts.forEach(([t, s]) => { ctx.font = s ? small : big; w += ctx.measureText(t).width; });
  let cx = align === 'center' ? x - w / 2 : align === 'right' ? x - w : x;
  ctx.textAlign = 'left';
  ctx.textBaseline = 'middle';
  parts.forEach(([t, s]) => {
    ctx.font = s ? small : big;
    ctx.fillText(t, cx, s ? y + 4 : y);
    cx += ctx.measureText(t).width;
  });
}

function yTitle(ctx, parts, x, y) {
  ctx.save();
  ctx.translate(x, y);
  ctx.rotate(-Math.PI / 2);
  subText(ctx, parts, 0, 0, 'center');
  ctx.restore();
}

function marker(ctx, style, r, fill, stroke, bw, x, y) {
  ctx.save();
  ctx.fillStyle = fill;
  ctx.strokeStyle = stroke;
  ctx.lineWidth = bw;
  Chart.helpers.drawPoint(ctx, {pointStyle: style, radius: r, rotation: 0, borderWidth: bw}, x, y);
  ctx.restore();
}

const GRAY = '#adadad', BROWN = '#96402f', APASS = '#0a6fb5', APASS_ERR = '#2b8fd2';
const RED = '#e4291e', RED_ERR = '#f26a5c';

const cmdDecor = {
  id: 'cmdDecor',
  afterDraw(chart) {
    const {ctx, scales: {x, y}} = chart;
    ctx.save();
    ctx.fillStyle = '#000';
    subText(ctx, [['(B-V)', 0], ['0', 1], [' (mag)', 0]], 343.5, 428, 'center');
    yTitle(ctx, [['M', 0], ['V', 1], [' (mag)', 0]], 22, 199);
    subText(ctx, [['M80-V1', 0]], x.getPixelForValue(0.64), y.getPixelForValue(-2.45), 'left');

    // key
    const rows = [334, 349.3, 364.6, 380];
    marker(ctx, 'circle', 1.6, GRAY, GRAY, 0, 84, rows[0]);
    marker(ctx, 'crossRot', 3.2, BROWN, BROWN, 1.3, 84, rows[1]);
    marker(ctx, 'circle', 1.8, '#000', '#000', 0, 84, rows[2]);
    ctx.strokeStyle = APASS_ERR; ctx.lineWidth = 1.2;
    ctx.beginPath();
    ctx.moveTo(80, rows[3]); ctx.lineTo(89, rows[3]);
    ctx.moveTo(80, rows[3] - 2.5); ctx.lineTo(80, rows[3] + 2.5);
    ctx.moveTo(89, rows[3] - 2.5); ctx.lineTo(89, rows[3] + 2.5);
    ctx.stroke();
    marker(ctx, 'circle', 2.4, APASS, APASS, 0, 84.5, rows[3]);
    ctx.fillStyle = '#000';
    ['Alcaino et al. 1998', 'Harris, Racine 1977', 'APASS common', 'APASS'].forEach((t, i) => subText(ctx, [[t, 0]], 96, rows[i], 'left'));
    ctx.restore();
  }
};

new Chart(document.getElementById('cmd'), {
  type: 'scatter',
  data: {
    datasets: [
      {label: 'Alcaino et al. 1998', data: xy(alcaino), order: 10, pointRadius: 1.85, pointBackgroundColor: GRAY, pointBorderWidth: 0},
      {label: 'Harris, Racine 1977', data: xy(harris), order: 9, pointStyle: 'crossRot', pointRadius: 3.3, pointBorderColor: BROWN, pointBorderWidth: 1.35},
      {label: 'APASS', data: apassBV.map((v, i) => ({x: v, y: apassMV[i]})), order: 4,
        pointRadius: 2.6, pointBackgroundColor: APASS, pointBorderWidth: 0,
        errX: apassErrBV, errY: apassErrMV, errColor: APASS_ERR, errWidth: 1.3, capX: 3.3, capY: 4.3},
      {label: 'APASS common', data: xy(apassCommon), order: 3, pointRadius: 1.8, pointBackgroundColor: '#000', pointBorderWidth: 0},
      {label: 'M80-V1', data: m80BV.map((v, i) => ({x: v, y: m80MV[i]})), order: 1,
        pointRadius: 2.6, pointBackgroundColor: RED, pointBorderWidth: 0,
        errX: m80ErrBV, errY: m80ErrMV, errColor: RED_ERR, errWidth: 1.3, capX: 3.3, capY: 4.3},
      {label: 'M80-V1 shifted', data: xy(m80Shifted), order: 1, pointStyle: 'crossRot', pointRadius: 7.5, pointBorderColor: RED, pointBorderWidth: 1.4}
    ]
  },
  options: {
    responsive: false, animation: false, events: [], devicePixelRatio: 1,
    layout: {padding: {top: 6, right: 37, bottom: 0, left: 0}},
    scales: {
      x: axis(-0.4, 1.6, cmdXTicks, false, 8, s => { s.height = 53; }),
      y: axis(-3.5, 6.5, cmdYTicks, true, 9, s => { s.width = 64; })
    },
    plugins: {
      legend: {display: false}, tooltip: {enabled: false},
      frameTicks: {xMajor: cmdXTicks, yMajor: cmdYTicks, xMinor: 0.1, yMinor: 0.2}
    }
  },
  plugins: [errorBars, frameTicks, cmdDecor]
});

// ---------------- lower panel ----------------

const C049 = '#56b4e9', C050 = '#9400d3', C052A = '#000000', C052B = '#e69f00';
const NAVY = '#00008b', SALMON = '#f4918a', VEC_BLUE = '#1a1aee', VEC_RED = '#ee1a1a';
const NONE = 'rgba(0,0,0,0)';

const hbDecor = {
  id: 'hbDecor',
  afterDraw(chart) {
    const {ctx} = chart;
    ctx.save();
    ctx.fillStyle = '#000';
    subText(ctx, [['(J-K)', 0], ['0', 1], [' (mag)', 0]], 343.5, 450, 'center');
    yTitle(ctx, [['M', 0], ['K', 1], [' (mag)', 0]], 22, 220);

    const rows = [288.3, 310.2, 332.1, 354, 376, 398];
    const labels = [
      'M=0.49, [Fe/H]=-0.5, [\u03b1/Fe]=0.8, 139 Myr',
      'M=0.50, [Fe/H]=-0.5, [\u03b1/Fe]=0.2, 135 Myr',
      'M=0.52, [Fe/H]=-1.5, [\u03b1/Fe]=0.0, 121 Myr',
      'M=0.52, [Fe/H]=-1.5, [\u03b1/Fe]=-0.2, 118 Myr',
      'KT Sco',
      'M80-V1'
    ];
    const keys = [
      [C049, 'circle', 2.4, C049, 0],
      [C050, 'circle', 2.6, NONE, 1],
      [C052A, 'rect', 3.4, C052A, 0],
      [C052B, 'rect', 3.6, NONE, 1],
      [NAVY, 'circle', 5.3, NONE, 1.2],
      [SALMON, 'rect', 7.2, NONE, 1.1]
    ];
    labels.forEach((t, i) => {
      ctx.fillStyle = '#000';
      subText(ctx, [[t, 0]], 582, rows[i], 'right');
      const [col, style, r, fill, bw] = keys[i];
      ctx.strokeStyle = col; ctx.lineWidth = 1;
      ctx.beginPath(); ctx.moveTo(591, rows[i]); ctx.lineTo(607, rows[i]); ctx.stroke();
      marker(ctx, style, r, fill, col, bw, 599, rows[i]);
    });
    ctx.restore();
  }
};

function track(label, pts, color, style, radius, filled, order) {
  return {
    label, data: xy(pts), order, showLine: true, tension: 0,
    borderColor: color, borderWidth: 1,
    pointStyle: style, pointRadius: radius,
    pointBackgroundColor: filled ? color : NONE,
    pointBorderColor: color, pointBorderWidth: filled ? 0 : 1
  };
}

new Chart(document.getElementById('hb'), {
  type: 'scatter',
  data: {
    datasets: [
      track('M=0.49', track049, C049, 'circle', 2.4, true, 8),
      track('M=0.50', track050, C050, 'circle', 2.6, false, 7),
      track('M=0.52 a', track052a, C052A, 'rect', 3.4, true, 6),
      track('M=0.52 b', track052b, C052B, 'rect', 3.6, false, 5),
      {label: 'KT Sco vector', data: xy(ktScoVector), order: 4, showLine: true, borderColor: VEC_BLUE, borderWidth: 1.1, pointRadius: 0},
      {label: 'M80-V1 vector', data: xy(m80v1Vector), order: 4, showLine: true, borderColor: VEC_RED, borderWidth: 1.1, pointRadius: 0},
      {label: 'KT Sco', data: xy(ktSco), order: 1, pointStyle: 'circle', pointRadius: 5.3,
        pointBackgroundColor: NONE, pointBorderColor: NAVY, pointBorderWidth: 1.2,
        errX: ktScoErrJK, errColor: NAVY, errWidth: 1},
      {label: 'M80-V1', data: xy(m80v1), order: 1, pointStyle: 'rect', pointRadius: 7.5,
        pointBackgroundColor: NONE, pointBorderColor: SALMON, pointBorderWidth: 1.1,
        errX: m80v1ErrJK, errColor: SALMON, errWidth: 1}
    ]
  },
  options: {
    responsive: false, animation: false, events: [], devicePixelRatio: 1,
    layout: {padding: {top: 29, right: 37, bottom: 0, left: 0}},
    scales: {
      x: axis(-0.25, 0.9, hbXTicks, false, 6, s => { s.height = 47; }),
      y: axis(-5.5, 5, hbYTicks, true, 9, s => { s.width = 64; })
    },
    plugins: {
      legend: {display: false}, tooltip: {enabled: false},
      frameTicks: {xMajor: hbXTicks, yMajor: hbYTicks, xMinor: 0.05, yMinor: 0.4}
    }
  },
  plugins: [errorBars, frameTicks, hbDecor]
});
</script>
</body>
</html>
